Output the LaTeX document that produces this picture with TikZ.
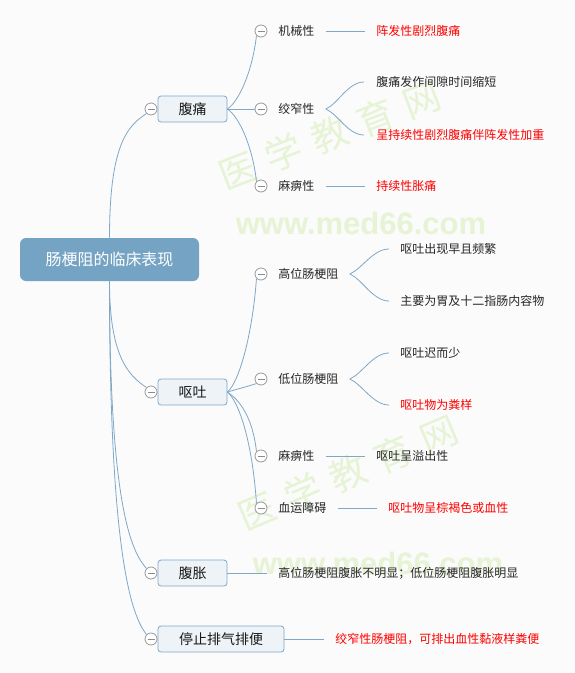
\documentclass[tikz,border=0pt]{standalone}
\usepackage{fontspec}
\setmainfont{Noto Sans CJK SC}
\newfontfamily\urlfont{Liberation Sans}
\definecolor{linec}{HTML}{7EA8C8}
\definecolor{rootc}{HTML}{74A3C3}
\definecolor{boxc}{HTML}{EEF3F7}
\definecolor{wmc}{HTML}{E6F3D5}
\definecolor{bgc}{HTML}{FBFBFB}

\begin{document}
\begin{tikzpicture}[x=1pt,y=-1pt,line width=0.8pt,
  link/.style={draw=linec,line width=0.8pt},
  rootbox/.style={fill=rootc,rounded corners=6pt,minimum width=179pt,minimum height=43pt,
    text=white,font=\fontsize{16}{18}\selectfont},
  topic/.style={draw=linec,fill=boxc,rounded corners=3pt,minimum width=69pt,minimum height=26pt,
    font=\fontsize{14}{16}\selectfont,text=black!90},
  minus/.style={circle,draw=black!40,fill=white,minimum size=12pt,inner sep=0pt,line width=0.8pt,
    path picture={\draw[black!45,line width=0.8pt] ([xshift=2.5pt]path picture bounding box.west)
      -- ([xshift=-2.5pt]path picture bounding box.east);}},
  sub/.style={anchor=west,inner sep=0pt,font=\fontsize{12}{14}\selectfont,text=black!85},
  hot/.style={sub,text=red},
  wm/.style={text=wmc,inner sep=0pt}]
  \path[use as bounding box,fill=bgc] (0,0) rectangle (575,673);
  % marca de agua
  \node[wm,rotate=21,font=\fontsize{37}{40}\selectfont] (wm1) at (330,135) {医\,\,学\,\,教\,\,育\,\,网};
  \node[wm,font=\urlfont\fontsize{31}{34}\selectfont\bfseries] (wm2) at (361,223) {www.med66.com};
  \node[wm,rotate=23,font=\fontsize{37}{40}\selectfont] (wm3) at (348,473) {医\,\,学\,\,教\,\,育\,\,网};
  \node[wm,font=\urlfont\fontsize{31}{34}\selectfont\bfseries] (wm4) at (378,563) {www.med66.com};

  % raiz y temas
  \node[rootbox] (root) at (109.5,259.5) {肠梗阻的临床表现};
  \node[topic] (fut) at (192.5,109) {腹痛};
  \node[topic] (ot) at (192.5,392) {呕吐};
  \node[topic] (fz) at (192.5,573) {腹胀};
  \node[topic,minimum width=126pt] (tz) at (221,639) {停止排气排便};
  \node[minus] (m-fut) at (151,109) {};
  \node[minus] (m-ot) at (151,392) {};
  \node[minus] (m-fz) at (151,573) {};
  \node[minus] (m-tz) at (151,639) {};
  \draw[link] (root.north) .. controls +(0,-95) and +(-18,12) .. (m-fut.south west);
  \draw[link] (root.south) .. controls +(0,75) and +(-18,-12) .. (m-ot.north west);
  \draw[link] (root.south) .. controls +(0,230) and +(-14,-16) .. (m-fz.north west);
  \draw[link] (root.south) .. controls +(0,280) and +(-14,-18) .. (m-tz.north west);

  % 腹痛
  \node[minus] (m-jx) at (261,31) {};
  \node[minus] (m-jz) at (261,109) {};
  \node[minus] (m-mb) at (261,186) {};
  \node[sub] (jx) at (278,31) {机械性};
  \node[sub] (jz) at (278,109) {绞窄性};
  \node[sub] (mb) at (278,186) {麻痹性};
  \draw[link] (fut.east) .. controls +(12,-8) and +(-4,35) .. (m-jx.south west);
  \draw[link] (fut.east) -- (m-jz.west);
  \draw[link] (fut.east) .. controls +(12,8) and +(-4,-35) .. (m-mb.north west);
  \node[hot] (jx1) at (376,31) {阵发性剧烈腹痛};
  \node[sub] (jz1) at (376,82) {腹痛发作间隙时间缩短};
  \node[hot] (jz2) at (376,135) {呈持续性剧烈腹痛伴阵发性加重};
  \node[hot] (mb1) at (376,186) {持续性胀痛};
  \draw[link] ([xshift=11pt]jx.east) -- ([xshift=-11pt]jx1.west);
  \draw[link] ([xshift=11pt]jz.east) .. controls +(12,-5) and +(-16,0) .. ([xshift=-12pt]jz1.west);
  \draw[link] ([xshift=11pt]jz.east) .. controls +(12,5) and +(-16,0) .. ([xshift=-12pt]jz2.west);
  \draw[link] ([xshift=11pt]mb.east) -- ([xshift=-11pt]mb1.west);

  % 呕吐
  \node[minus] (m-gw) at (261,274) {};
  \node[minus] (m-dw) at (261,379) {};
  \node[minus] (m-mb2) at (261,456) {};
  \node[minus] (m-xy) at (261,508) {};
  \node[sub] (gw) at (278,274) {高位肠梗阻};
  \node[sub] (dw) at (278,379) {低位肠梗阻};
  \node[sub] (mb2) at (278,456) {麻痹性};
  \node[sub] (xy) at (278,508) {血运障碍};
  \draw[link] (ot.east) .. controls +(12,-10) and +(-4,55) .. (m-gw.south west);
  \draw[link] (ot.east) .. controls +(10,-3) and +(-9,3) .. (m-dw.south west);
  \draw[link] (ot.east) .. controls +(12,8) and +(-4,-35) .. (m-mb2.north west);
  \draw[link] (ot.east) .. controls +(12,10) and +(-4,-60) .. (m-xy.north west);
  \node[sub] (gw1) at (400,249) {呕吐出现早且频繁};
  \node[sub] (gw2) at (400,301) {主要为胃及十二指肠内容物};
  \node[sub] (dw1) at (400,353) {呕吐迟而少};
  \node[hot] (dw2) at (400,405) {呕吐物为粪样};
  \node[sub] (mb21) at (376,456) {呕吐呈溢出性};
  \node[hot] (xy1) at (388,508) {呕吐物呈棕褐色或血性};
  \draw[link] ([xshift=11pt]gw.east) .. controls +(12,-5) and +(-16,0) .. ([xshift=-11pt]gw1.west);
  \draw[link] ([xshift=11pt]gw.east) .. controls +(12,5) and +(-16,0) .. ([xshift=-11pt]gw2.west);
  \draw[link] ([xshift=11pt]dw.east) .. controls +(12,-5) and +(-16,0) .. ([xshift=-11pt]dw1.west);
  \draw[link] ([xshift=11pt]dw.east) .. controls +(12,5) and +(-16,0) .. ([xshift=-11pt]dw2.west);
  \draw[link] ([xshift=11pt]mb2.east) -- ([xshift=-11pt]mb21.west);
  \draw[link] ([xshift=11pt]xy.east) -- ([xshift=-11pt]xy1.west);

  % 腹胀 y 停止排气排便
  \node[sub] (fz1) at (278,573) {高位肠梗阻腹胀不明显；低位肠梗阻腹胀明显};
  \node[hot] (tz1) at (335,639) {绞窄性肠梗阻，可排出血性黏液样粪便};
  \draw[link] (fz.east) -- ([xshift=-11pt]fz1.west);
  \draw[link] (tz.east) -- ([xshift=-11pt]tz1.west);
\end{tikzpicture}
\end{document}
